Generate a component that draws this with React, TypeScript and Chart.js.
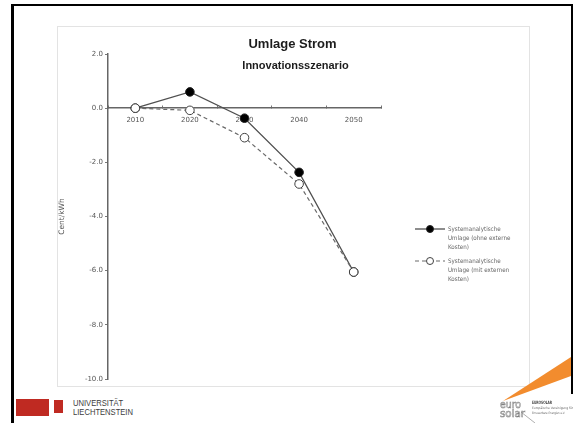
import { useEffect, useRef } from "react";
import { Chart, registerables } from "chart.js";

Chart.register(...registerables);

// Chart data
const YEARS = ["2010", "2020", "2030", "2040", "2050"];
const UMLAGE_OHNE_EXTERNE = [0.0, 0.6, -0.37, -2.37, -6.05];
const UMLAGE_MIT_EXTERNEN = [0.0, -0.08, -1.09, -2.8, -6.05];

const LEGEND_OHNE = ["Systemanalytische", "Umlage (ohne externe", "Kosten)"];
const LEGEND_MIT = ["Systemanalytische", "Umlage (mit externen", "Kosten)"];

const TITLE = "Umlage Strom";
const SUBTITLE = "Innovationsszenario";
const Y_TITLE = "Cent/kWh";
const Y_MIN = -10;
const Y_MAX = 2;
const Y_STEP = 2;

const AXIS_FONT = "'DejaVu Sans', Verdana, sans-serif";

// Title + subtitle drawn inside the plot frame
const titlePlugin = {
  id: "frameTitles",
  afterDraw(chart: any) {
    const { ctx, width } = chart;
    ctx.save();
    ctx.fillStyle = "#1c1c1c";
    ctx.textAlign = "center";
    ctx.textBaseline = "middle";
    ctx.font = "bold 13px 'Liberation Sans', Arial, sans-serif";
    ctx.fillText(TITLE, width / 2 - 0.5, 18);
    ctx.font = "bold 11px 'Liberation Sans', Arial, sans-serif";
    ctx.fillText(SUBTITLE, width / 2 + 2.5, 40);
    ctx.restore();
  },
};

// Legend at the right with wrapped multi-line labels
const legendPlugin = {
  id: "sideLegend",
  afterDraw(chart: any) {
    const { ctx, chartArea } = chart;
    const lines = [LEGEND_OHNE, LEGEND_MIT];
    const x0 = chartArea.right + 34;
    const sampleW = 30;
    const textX = x0 + sampleW + 3;
    const lineH = 9.3;
    const tops = [chartArea.top + 175, chartArea.top + 207];
    chart.data.datasets.forEach((ds: any, i: number) => {
      const y = tops[i];
      ctx.save();
      ctx.strokeStyle = ds.borderColor;
      ctx.lineWidth = ds.borderWidth;
      ctx.setLineDash(ds.borderDash || []);
      ctx.beginPath();
      ctx.moveTo(x0, y);
      ctx.lineTo(x0 + sampleW, y);
      ctx.stroke();
      ctx.setLineDash([]);
      ctx.beginPath();
      ctx.arc(x0 + sampleW / 2, y, 3.5, 0, Math.PI * 2);
      ctx.fillStyle = ds.pointBackgroundColor;
      ctx.fill();
      ctx.strokeStyle = ds.pointBorderColor;
      ctx.lineWidth = ds.pointBorderWidth;
      ctx.stroke();
      ctx.fillStyle = "#666666";
      ctx.font = "6.2px 'DejaVu Sans Condensed', 'DejaVu Sans', sans-serif";
      ctx.textAlign = "left";
      ctx.textBaseline = "middle";
      lines[i].forEach((t, k) => ctx.fillText(t, textX, y + k * lineH));
      ctx.restore();
    });
  },
};

export default function App() {
  const canvasRef = useRef<HTMLCanvasElement>(null);

  useEffect(() => {
    const chart = new Chart(canvasRef.current as HTMLCanvasElement, {
      type: "line",
      data: {
        labels: YEARS,
        datasets: [
          {
            label: LEGEND_OHNE.join(" "),
            data: UMLAGE_OHNE_EXTERNE,
            borderColor: "#505050",
            borderWidth: 1.3,
            pointRadius: 4.3,
            pointBackgroundColor: "#000000",
            pointBorderColor: "#202020",
            pointBorderWidth: 1,
            tension: 0,
            order: 1,
          },
          {
            label: LEGEND_MIT.join(" "),
            data: UMLAGE_MIT_EXTERNEN,
            borderColor: "#6a6a6a",
            borderWidth: 1.2,
            borderDash: [4, 3],
            pointRadius: 4.3,
            pointBackgroundColor: "#ffffff",
            pointBorderColor: "#404040",
            pointBorderWidth: 1,
            tension: 0,
            order: 0,
          },
        ],
      },
      options: {
        animation: false,
        responsive: false,
        maintainAspectRatio: false,
        layout: { padding: { top: 28, right: 148, bottom: 8, left: 0 } },
        plugins: {
          legend: { display: false },
          title: { display: false },
          tooltip: { enabled: false },
        },
        scales: {
          x: {
            type: "category",
            position: { y: 0 },
            offset: true,
            grid: {
              offset: true,
              drawOnChartArea: false,
              drawTicks: true,
              tickLength: -3,
              color: "#777777",
            },
            border: { display: true, color: "#666666", width: 1.5 },
            ticks: {
              color: "#555555",
              font: { family: AXIS_FONT, size: 7 },
              padding: 11,
              maxRotation: 0,
            },
          },
          y: {
            type: "linear",
            min: Y_MIN,
            max: Y_MAX,
            afterFit: (scale: any) => {
              scale.width = 51;
            },
            grid: {
              drawOnChartArea: false,
              drawTicks: true,
              tickLength: 3,
              color: "#777777",
            },
            border: { display: true, color: "#666666", width: 1.5 },
            ticks: {
              stepSize: Y_STEP,
              color: "#555555",
              font: { family: AXIS_FONT, size: 7 },
              padding: 2,
              callback: (v: any) => Number(v).toFixed(1),
            },
            title: {
              display: true,
              text: Y_TITLE,
              color: "#555555",
              font: { family: AXIS_FONT, size: 7.5 },
              padding: { top: 1, bottom: 0 },
            },
          },
        },
      },
      plugins: [titlePlugin, legendPlugin],
    });
    return () => chart.destroy();
  }, []);

  const red = "#bf2a22";

  return (
    <div
      style={{
        position: "fixed",
        left: 0,
        top: 0,
        width: 579,
        height: 423,
        overflow: "hidden",
        background: "#ffffff",
      }}
    >
      {/* slide frame */}
      <div
        style={{
          position: "absolute",
          left: 11,
          top: 4,
          width: 562,
          height: 440,
          boxSizing: "border-box",
          borderLeft: "3px solid #000",
          borderTop: "2px solid #000",
          borderRight: "2px solid #000",
        }}
      />
      {/* plot frame */}
      <div
        style={{
          position: "absolute",
          left: 57,
          top: 26,
          width: 473,
          height: 361,
          boxSizing: "border-box",
          border: "1px solid #e3e3e3",
        }}
      />
      <canvas
        ref={canvasRef}
        width={472}
        height={361}
        style={{ position: "absolute", left: 57, top: 26, width: 472, height: 361 }}
      />
      {/* university logo */}
      <div style={{ position: "absolute", left: 16, top: 399, width: 33, height: 17, background: red }} />
      <div style={{ position: "absolute", left: 54, top: 400, width: 9, height: 13, background: red }} />
      <div
        style={{
          position: "absolute",
          left: 73,
          top: 399,
          fontFamily: "'Liberation Sans', Arial, sans-serif",
          fontSize: 9.5,
          lineHeight: "8.7px",
          color: "#3c3c3c",
          transform: "scaleX(0.8)",
          transformOrigin: "left top",
          whiteSpace: "nowrap",
        }}
      >
        <div>UNIVERSITÄT</div>
        <div>LIECHTENSTEIN</div>
      </div>
      {/* eurosolar logo */}
      <svg
        width={84}
        height={71}
        viewBox="0 0 84 71"
        style={{ position: "absolute", left: 495, top: 352 }}
      >
        <rect x={74} y={42} width={10} height={29} fill="#ffffff" />
        <polygon points="8,49 76,5 76,24" fill="#f28c2e" />
        <text
          x={5}
          y={56}
          fontSize={11}
          textLength={21}
          lengthAdjust="spacingAndGlyphs"
          fill="#ffffff"
          stroke="#808080"
          strokeWidth={0.6}
          fontFamily="'DejaVu Sans', sans-serif"
        >
          euro
        </text>
        <text
          x={5}
          y={65}
          fontSize={11}
          textLength={25}
          lengthAdjust="spacingAndGlyphs"
          fill="#ffffff"
          stroke="#808080"
          strokeWidth={0.6}
          fontFamily="'DejaVu Sans', sans-serif"
        >
          solar
        </text>
        <line x1={26} y1={60} x2={40} y2={71} stroke="#777777" strokeWidth={0.6} />
        <text
          x={37}
          y={51.5}
          fontSize={4.5}
          fontWeight="bold"
          textLength={20}
          lengthAdjust="spacingAndGlyphs"
          fill="#444444"
          fontFamily="'DejaVu Sans', sans-serif"
        >
          EUROSOLAR
        </text>
        <text
          x={37}
          y={57}
          fontSize={3.2}
          textLength={41}
          lengthAdjust="spacingAndGlyphs"
          fill="#666666"
          fontFamily="'DejaVu Sans', sans-serif"
        >
          Europäische Vereinigung für
        </text>
        <text
          x={37}
          y={62}
          fontSize={3.2}
          textLength={33}
          lengthAdjust="spacingAndGlyphs"
          fill="#666666"
          fontFamily="'DejaVu Sans', sans-serif"
        >
          Erneuerbare Energien e.V.
        </text>
      </svg>
    </div>
  );
}
